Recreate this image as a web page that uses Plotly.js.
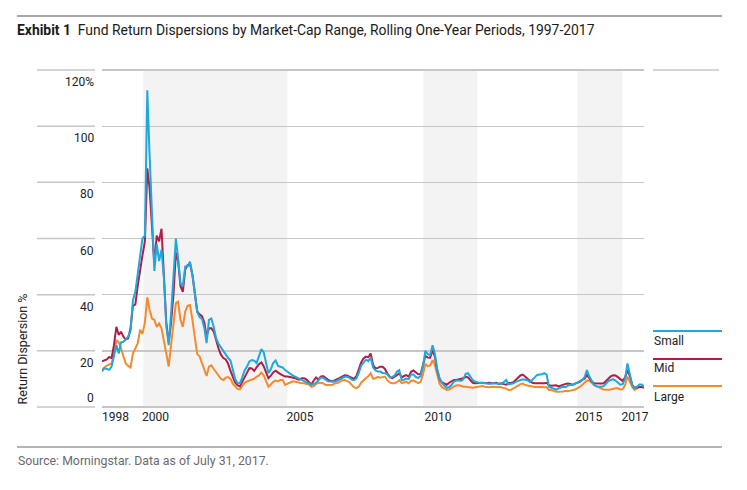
<!DOCTYPE html>
<html><head><meta charset="utf-8">
<script src="https://cdn.plot.ly/plotly-3.0.1.min.js"></script>
<style>html,body{margin:0;padding:0;background:#fff;}#chart{width:747px;height:490px;}</style>
</head><body><div id="chart"></div>
<script>
// Rolling one-year periods, monthly, first period ending July 1998, last ending July 2017
const firstMonth = [1998, 7];
const small = [12.6,13.8,13.5,13.2,14.4,18,22,19,23,23.2,24,25,27,38,41,48,54,60,61,112.8,90,66,48.4,58,52,56,46,29,22,33,48,60,53,44,43,50,
50,51.7,47,41,34,32,31.3,28,22.7,31,31.5,28.4,24.5,22.5,21.2,19.8,18.5,17.5,16.5,13,10,8.4,8.4,10.5,13,14.4,16.2,16.7,16.5,15.6,18.5,20.6,19.5,15.5,12,13.5,15.6,16.5,14.6,14.3,14,13.1,12.4,11.7,11.3,10.9,10.5,10.1,9.6,9.2,8.8,8.3,7.9,8.1,8.6,9.5,10.4,10.4,
9.6,9.1,9,9,9,9.4,9.8,10.2,10.7,10.7,10.4,9.7,9.5,10.2,12,14.7,16,16.8,16.3,17.5,14,13,12.6,12.6,12.1,12,11.6,10.5,10.6,11.1,12.5,13.1,9.6,9.7,10.1,9.9,11.5,11.5,10.7,10.3,11,14.5,20,18.8,18.5,22,19,13.5,10.2,8.5,7.6,6.8,7,7.8,9,9.4,9.4,9.3,9.8,
11.8,12,10.6,
9.5,9,8.6,8.5,8.6,8.4,8.3,8.2,8.4,8.4,8.4,8.4,8.2,8.8,9.6,8,8.2,8.4,8.9,9.2,9.6,9.8,9.7,9.5,8.8,9.5,10.5,11.4,11.4,11.6,12,11.5,7.2,6.8,6.4,6.1,6.5,6.9,7.2,7,7.6,7.8,7.8,8.3,8.7,9.1,9.6,10.5,13.1,10.8,9,7.8,7.3,7.2,7.2,7.4,8.3,9.2,9.6,9.8,9.4,8.8,7.9,8.1,10,15.5,12,7.6,6.7,7.1,8,8,7.2];
const mid = [16.2,16.5,16.9,17.8,17.4,22,28.5,25.6,26.8,25,24,24.4,28,36,36.5,43,49.4,54,59,85,78,62,51,61,59,63.5,47,30,23,30,40,55,52,43,41,49,
50.5,51,47,41,34,33,32.3,30,25.2,28,28,26.8,23.8,20.8,18.6,17.4,16.9,15.5,12.8,10.3,8.7,7.7,7.3,8.9,10.5,12,13.8,13.7,12.8,14.1,15.2,15.8,14.5,12.3,10.2,11.1,12.3,12.9,12.2,11.7,11.2,10.8,10.8,10.7,10.5,10.3,9.9,9.7,10.2,10.2,9.7,8.9,8,9.3,10.5,9.7,10.8,11,
10.2,9.7,9.3,9.1,9.5,9.8,10.3,10.8,11.3,11.2,10.9,10.3,10,10.9,13.1,15.8,17.3,17.9,17.7,19,15,13.7,13.9,14.3,14.3,13.5,11.9,10.8,10.2,10.6,11.3,12,10.5,11,11.3,10.8,12.5,13,12.4,11.6,11.7,14.5,18.2,17.6,17.5,20.2,18,13,10,8.7,8.3,7.9,8.6,9.1,9.6,9.6,9.8,10.2,10.2,
10.7,10.5,9.5,8.6,8.4,8.5,8.6,8.6,8.4,8.5,8.6,8.4,8.5,8.6,8.2,8.4,8.1,7.9,8.5,8.5,8.8,9.6,10.6,11.2,11.5,10.9,10,9.3,8.6,8.4,8.4,8.4,8.2,8.4,8.6,7.8,7.5,7.6,7.7,7.3,7.6,8,8.2,8.3,8.1,7.9,8.3,8.5,8.9,9.6,10,11.4,10,9,8.4,8.3,8.4,8.3,8.4,9.2,10.3,10.9,11.3,11.2,10.6,9.7,9.2,10.5,13.1,11,7.8,6.8,7,7.1,7.1,6.8];
const large = [13.3,14.1,14.7,15.1,15.5,19,23.8,23,21,18,15.5,14.6,14,19,21.2,22.6,27.5,26,30,39,34.6,31.5,31,28.5,29.7,28,23.5,18.5,14.4,22,30,37,37.5,31,28.5,34,
36,36.3,31,24,18.8,18,15.4,12.6,11,14.3,14.8,13.5,12.4,11,10,9.6,10.4,10.6,10,8.2,7.2,6.4,6.2,7.5,8.6,9.1,9.5,9.6,10,10.7,11.2,12.2,11.3,9.2,7.2,8,8.9,9.4,9.1,9.6,9.6,7.8,8.2,8.7,9,9,8.8,8.5,8.4,8.4,8.3,8,7.1,7.4,8.1,8.6,8.5,8.4,
7.8,7.8,7.8,7.9,8.4,8.5,8.9,9.4,9.6,9.3,8.8,7.9,7,6.7,7.2,8.6,9.6,10.3,10.9,12,10,10.2,10.7,10.4,10.6,10.8,9.5,8.7,8.4,8.4,8.8,9.5,8.5,8.8,8.9,8.4,9.3,9.4,8.9,8.5,8.9,11.5,15.3,14.5,14.8,16.6,15,11.5,8.3,7,6.5,6,6.2,6.8,7.2,7.6,7.7,7.5,7.2,
7.2,7,6.8,6.8,7,7.1,7.2,7.4,7.2,7.1,7,7.2,7.1,7.1,7.2,7,6.8,6.5,6,6.1,6.6,7,7.6,8.1,8.3,7.8,7.6,7.3,7.2,7.1,7.1,7.2,7.1,7,7,6,6,5.7,5.4,5.4,5.4,5.5,5.7,5.6,5.8,6,6.2,6.7,7.1,7.8,8.6,9.4,9.3,8.4,7.8,7.4,6.9,6.5,6.2,6.1,6.1,6.2,6.5,6.6,6.6,6.2,6.3,7.8,10.8,8.8,7.1,6,6.6,7,7.2,7];

const seriesNames = ['Small', 'Mid', 'Large'];
const yTickValues = [0, 20, 40, 60, 80, 100, 120];
const yTickText = ['0', '20', '40', '60', '80', '100', '120%'];
const xTickDates = ['1998-07-01', '1999-11-25', '2004-12-20', '2009-10-20', '2015-02-01', '2016-09-15'];
const xTickText = ['1998', '2000', '2005', '2010', '2015', '2017'];
const bandStarts = ['1999-12-10', '2009-10-06', '2015-03-01'];
const bandEnds = ['2004-12-28', '2011-08-28', '2016-09-28'];

const months = [];
for (let i = 0; i < small.length; i++) {
  const y = firstMonth[0] + Math.floor((firstMonth[1] - 1 + i) / 12);
  const m = ((firstMonth[1] - 1 + i) % 12) + 1;
  months.push(y + '-' + String(m).padStart(2, '0') + '-01');
}

const FONT = 'Roboto, "Liberation Sans", sans-serif';
const colors = {Small: '#1fa8dd', Mid: '#b01e45', Large: '#f58a2c'};
const values = {Small: small, Mid: mid, Large: large};

const traces = ['Large', 'Mid', 'Small'].map(n => ({
  type: 'scatter', mode: 'lines', name: n, x: months, y: values[n],
  line: {color: colors[n], width: 2}, hoverinfo: 'skip'
}));

const H = 490, W = 747, mL = 102, mR = 103, mT = 69, mB = 82;
const pw = W - mL - mR, ph = H - mT - mB;
const px = v => (v - mL) / pw;          // pixel -> paper x
const py = v => (H - mB - v) / ph;      // pixel -> paper y

const shapes = [];
bandStarts.forEach((s, i) => shapes.push({type: 'rect', xref: 'x', yref: 'y', x0: s, x1: bandEnds[i], y0: 0, y1: 120,
  fillcolor: '#f3f3f3', line: {width: 0}, layer: 'below'}));
yTickValues.forEach(v => shapes.push({type: 'line', xref: 'paper', yref: 'y', x0: px(37), x1: px(95), y0: v, y1: v,
  line: {color: '#c6c6c6', width: 1.5}}));
shapes.push({type: 'line', xref: 'paper', yref: 'y', x0: px(653), x1: px(719), y0: 120, y1: 120, line: {color: '#c6c6c6', width: 1.5}});
shapes.push({type: 'line', xref: 'paper', yref: 'paper', x0: px(17), x1: px(722), y0: py(16), y1: py(16), line: {color: '#8a8a8a', width: 1.5}});
shapes.push({type: 'line', xref: 'paper', yref: 'paper', x0: px(17), x1: px(722), y0: py(447), y1: py(447), line: {color: '#b4b4b4', width: 2}});
const legY = {Small: [331, 341], Mid: [359, 368], Large: [386, 397]};
seriesNames.forEach(n => shapes.push({type: 'line', xref: 'paper', yref: 'paper', x0: px(653), x1: px(722),
  y0: py(legY[n][0]), y1: py(legY[n][0]), line: {color: colors[n], width: 2}}));

const annotations = [];
yTickValues.forEach((v, i) => annotations.push({xref: 'paper', yref: 'y', x: px(96), y: v, xanchor: 'right',
  yanchor: v === 0 ? 'bottom' : 'top', yshift: v === 0 ? 0 : -3, showarrow: false, text: yTickText[i],
  font: {family: FONT, size: 12, color: '#222'}}));
seriesNames.forEach(n => annotations.push({xref: 'paper', yref: 'paper', x: px(652), y: py(legY[n][1]), xanchor: 'left',
  yanchor: 'middle', showarrow: false, text: n, font: {family: FONT, size: 12, color: '#222'}}));
annotations.push({xref: 'paper', yref: 'y', x: px(22), y: 0, xanchor: 'center', yanchor: 'bottom', textangle: -90,
  showarrow: false, text: 'Return Dispersion %', font: {family: FONT, size: 12.5, color: '#222'}});
annotations.push({xref: 'paper', yref: 'paper', x: px(16), y: py(461), xanchor: 'left', yanchor: 'middle',
  showarrow: false, text: 'Source: Morningstar. Data as of July 31, 2017.', font: {family: FONT, size: 12.3, color: '#6a6a6a'}});

const layout = {
  width: W, height: H, margin: {l: mL, r: mR, t: mT, b: mB},
  paper_bgcolor: '#ffffff', plot_bgcolor: 'rgba(0,0,0,0)', showlegend: false, hovermode: false,
  title: {text: '<b>Exhibit 1</b>  Fund Return Dispersions by Market-Cap Range, Rolling One-Year Periods, 1997-2017',
    xref: 'container', yref: 'container', x: 17 / W, y: 1 - 30 / H, xanchor: 'left', yanchor: 'middle',
    font: {family: FONT, size: 13.9, color: '#1a1a1a'}},
  xaxis: {type: 'date', range: [months[0], months[months.length - 1]], tickvals: xTickDates, ticktext: xTickText,
    ticklabelposition: 'outside right', showgrid: false, zeroline: false, showline: false, ticks: '',
    tickfont: {family: FONT, size: 12, color: '#222'}, fixedrange: true},
  yaxis: {range: [-0.4, 120.4], tickvals: yTickValues, showticklabels: false, showgrid: true, gridcolor: '#c6c6c6',
    gridwidth: 1.5, zeroline: false, showline: false, ticks: '', fixedrange: true},
  shapes: shapes, annotations: annotations
};

Plotly.newPlot('chart', traces, layout, {displayModeBar: false, staticPlot: true});
</script></body></html>
